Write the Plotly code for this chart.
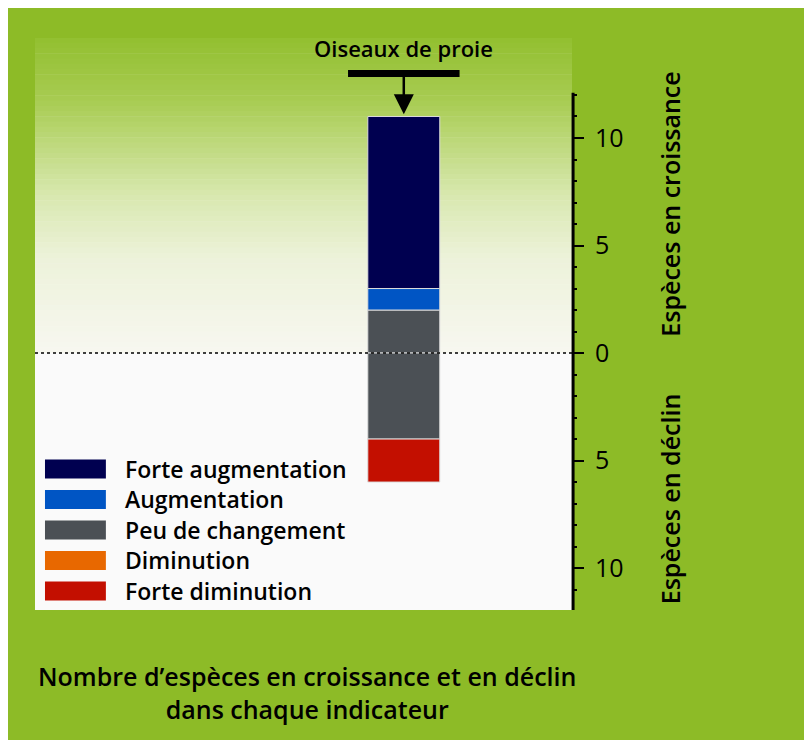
import plotly.graph_objects as go

# ---------------- data ----------------
categories = ["Oiseaux de proie"]
series_names = ["Forte augmentation", "Augmentation", "Peu de changement",
                "Diminution", "Forte diminution"]
series_colors = ["#000050", "#0055c4", "#4b5055", "#e86800", "#c30f00"]

forte_augmentation = [8]
augmentation = [1]
peu_changement_haut = [2]   # part above zero
peu_changement_bas = [4]    # part below zero
diminution = [0]
forte_diminution = [2]

major_tick_vals = [-10, -5, 0, 5, 10]
major_tick_text = ["10", "5", "0", "5", "10"]
minor_tick_vals = [v for v in range(-12, 13) if v % 5 != 0]

axis_title_up = "Espèces en croissance"
axis_title_down = "Espèces en déclin"
caption = "Nombre d’espèces en croissance et en déclin<br>dans chaque indicateur"

# ---------------- figure ----------------
FONT = "Open Sans"
BG = "#8dbb27"
xpos = [0]

fig = go.Figure()
order = [
    (2, peu_changement_haut, 1),
    (2, peu_changement_bas, -1),
    (1, augmentation, 1),
    (3, diminution, -1),
    (0, forte_augmentation, 1),
    (4, forte_diminution, -1),
]
for idx, vals, sign in order:
    fig.add_trace(go.Bar(
        x=xpos, y=[sign * v for v in vals], name=series_names[idx],
        marker=dict(color=series_colors[idx], line=dict(color="#dcdcdc", width=1)),
        width=0.8, showlegend=False, legendgroup=series_names[idx],
        hovertext=categories,
    ))

# gradient background above zero (styling only)
stops = [(0.0, (146, 191, 48)), (0.2, (168, 204, 82)), (0.5, (216, 232, 175)),
         (0.7, (237, 242, 218)), (1.0, (247, 247, 240))]
def col(t):
    for (t0, c0), (t1, c1) in zip(stops[:-1], stops[1:]):
        if t <= t1:
            f = (t - t0) / (t1 - t0)
            return "rgb(%d,%d,%d)" % tuple(round(a + (b - a) * f) for a, b in zip(c0, c1))
    return "rgb(%d,%d,%d)" % stops[-1][1]

ytop = 14.65
n = 60
for i in range(n):
    y1 = ytop - ytop * i / n
    y0 = ytop - ytop * (i + 1) / n
    fig.add_shape(type="rect", xref="paper", yref="y", x0=0, x1=1, y0=y0, y1=y1 + 0.02,
                  fillcolor=col((i + 0.5) / n), line=dict(width=0), layer="below")

# zero dotted line
fig.add_shape(type="line", xref="paper", yref="y", x0=0, x1=1, y0=0, y1=0,
              line=dict(color="black", width=1.5, dash="dot"))
# axis line
fig.add_shape(type="line", xref="paper", yref="y", x0=1.002, x1=1.002, y0=-12.1, y1=12.1,
              line=dict(color="black", width=3))

# T marker above the bar
fig.add_shape(type="line", xref="x", yref="y", x0=-0.62, x1=0.62, y0=13.0, y1=13.0,
              line=dict(color="black", width=7))
fig.add_annotation(x=0, y=11.1, xref="x", yref="y", ax=0, ay=-40, axref="pixel", ayref="pixel",
                   showarrow=True, arrowhead=2, arrowsize=1.6, arrowwidth=2.5, arrowcolor="black",
                   text="")
fig.add_annotation(x=0, y=1, xref="x", yref="paper", xanchor="center", yanchor="middle",
                   yshift=-10, text=categories[0], showarrow=False,
                   font=dict(family=FONT, size=22, color="black", weight=600))

# axis titles
fig.add_annotation(x=1.1825, y=6.9, xref="paper", yref="y", text=axis_title_up,
                   xanchor="center", yanchor="middle", textangle=-90, showarrow=False,
                   font=dict(family=FONT, size=25, color="black", weight=600))
fig.add_annotation(x=1.1825, y=-6.8, xref="paper", yref="y", text=axis_title_down,
                   xanchor="center", yanchor="middle", textangle=-90, showarrow=False,
                   font=dict(family=FONT, size=25, color="black", weight=600))

# caption
fig.add_annotation(x=0.5065, y=-0.1434, xref="paper", yref="paper", text=caption,
                   xanchor="center", yanchor="middle", showarrow=False, align="center",
                   font=dict(family=FONT, size=25, color="black", weight=600))

# custom legend
for k, (name, c) in enumerate(zip(series_names, series_colors)):
    yc = 0.2465 - k * 0.0533
    fig.add_shape(type="rect", xref="paper", yref="paper", x0=0.0186, x1=0.132,
                  y0=yc - 0.0166, y1=yc + 0.0166, fillcolor=c, line=dict(width=0))
    fig.add_annotation(x=0.164, y=yc, xref="paper", yref="paper", xanchor="left",
                       yanchor="middle", text=name, showarrow=False,
                       font=dict(family=FONT, size=23, color="black", weight=600))

fig.update_layout(
    width=812, height=740,
    margin=dict(l=27, r=248, t=30, b=138),
    paper_bgcolor=BG, plot_bgcolor="#fafafa",
    barmode="relative", showlegend=False,
    xaxis=dict(range=[-4.10, 1.87], showticklabels=False, showgrid=False,
               zeroline=False, showline=False, ticks=""),
    yaxis=dict(range=[-11.95, 14.65], side="right", showgrid=False, zeroline=False,
               showline=False, tickvals=major_tick_vals, ticktext=major_tick_text,
               ticks="outside", ticklen=11, tickwidth=2, tickcolor="black",
               ticklabelstandoff=6,
               tickfont=dict(family=FONT, size=25, color="black"),
               minor=dict(tickvals=minor_tick_vals, ticks="outside", ticklen=4,
                          tickwidth=2, tickcolor="black")),
)

fig.write_html("out.html")
